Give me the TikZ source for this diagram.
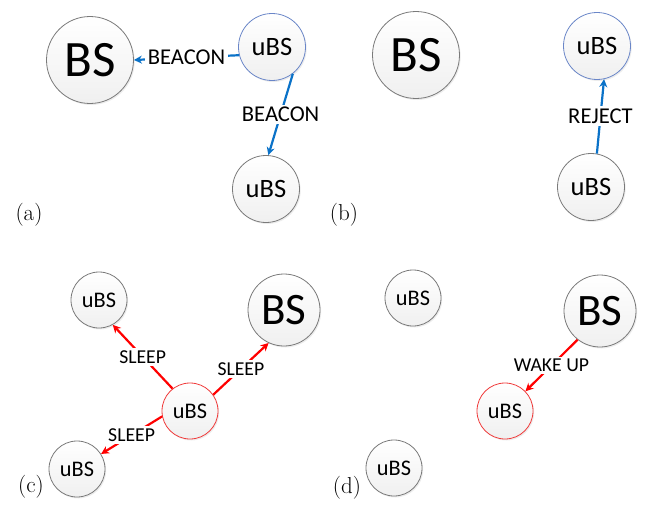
\documentclass[tikz,border=0pt]{standalone}
\usepackage{fontspec}
\newfontfamily\calfont{Carlito}
\usetikzlibrary{shadows,arrows.meta}
\definecolor{bluearr}{HTML}{0A72C8}
\definecolor{blueedge}{HTML}{6A86C8}
\definecolor{rededge}{HTML}{F03C3C}
\definecolor{grayedge}{HTML}{7A7A7A}
\tikzset{
  station/.style={circle, draw=grayedge, line width=0.8pt, inner sep=0pt,
    top color=white, bottom color=black!6,
    drop shadow={opacity=0.15, shadow xshift=1.2pt, shadow yshift=-1.5pt},
    font=\calfont},
  bigbs/.style={station, minimum size=87pt, font=\calfont\fontsize{51}{55}\selectfont},
  smallu/.style={station, minimum size=67pt, font=\calfont\fontsize{26.5}{30}\selectfont},
  bigbsc/.style={station, minimum size=72pt, font=\calfont\fontsize{45}{50}\selectfont},
  smalluc/.style={station, minimum size=56pt, font=\calfont\fontsize{22.3}{26}\selectfont},
  bluering/.style={draw=blueedge},
  redring/.style={draw=rededge},
  bluemsg/.style={draw=bluearr, line width=2.2pt, -{Stealth[length=8pt,width=8pt]}},
  redmsg/.style={draw=red, line width=2.2pt, -{Stealth[length=8pt,width=8pt]}},
  msglbl/.style={fill=white, inner sep=2.5pt, font=\calfont\fontsize{22.6}{26}\selectfont},
  msglblc/.style={fill=white, inner sep=2.5pt, font=\calfont\fontsize{19.7}{23}\selectfont},
  sublbl/.style={font=\fontsize{23}{27}\selectfont, inner sep=0pt},
}
\begin{document}
\begin{tikzpicture}[x=1pt,y=-1pt]
\useasboundingbox (0,0) rectangle (646,506);
% (a)
\node[bigbs] (bsa) at (90,60) {BS};
\node[smallu,bluering] (ua1) at (272,47) {uBS};
\node[smallu] (ua2) at (266,189) {uBS};
\draw[bluemsg] (ua1.194) -- node[msglbl] {BEACON} (bsa.0);
\draw[bluemsg] (ua1.308) -- node[msglbl] {BEACON} (ua2.86);
\node[sublbl] (la) at (29,215) {(a)};
% (b)
\node[bigbs] (bsb) at (416,55) {BS};
\node[smallu,bluering] (ub1) at (597,46) {uBS};
\node[smallu] (ub2) at (591,187) {uBS};
\draw[bluemsg] (ub2.80) -- node[msglbl] {REJECT} (ub1.282);
\node[sublbl] (lb) at (344,215) {(b)};
% (c)
\node[smalluc] (uc1) at (99,300) {uBS};
\node[bigbsc] (bsc) at (284,310) {BS};
\node[smalluc,redring] (ucr) at (190,411) {uBS};
\node[smalluc] (uc3) at (77,469) {uBS};
\draw[redmsg] (ucr.128) -- node[msglblc] {SLEEP} (uc1.299);
\draw[redmsg] (ucr.35) -- node[msglblc] {SLEEP} (bsc.245);
\draw[redmsg] (ucr.191) -- node[msglblc] {SLEEP} (uc3.32);
\node[sublbl] (lc) at (31,487) {(c)};
% (d)
\node[smalluc] (ud1) at (413,298) {uBS};
\node[bigbsc] (bsd) at (600,311) {BS};
\node[smalluc,redring] (udr) at (505,411) {uBS};
\node[smalluc] (ud3) at (394,468) {uBS};
\draw[redmsg] (bsd.232) -- node[msglblc] {WAKE UP} (udr.44);
\node[sublbl] (ld) at (347,488) {(d)};
\end{tikzpicture}
\end{document}
